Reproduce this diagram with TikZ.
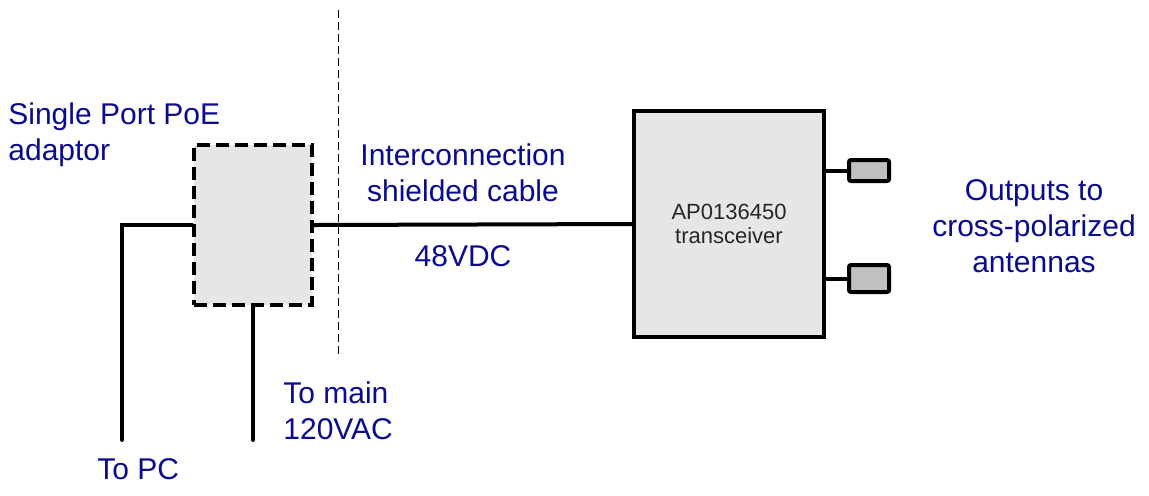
\documentclass[tikz,border=0pt]{standalone}
\usepackage{fontspec}
\setmainfont{Liberation Sans}
\usepackage{xcolor}
\definecolor{labelblue}{HTML}{0A0A8F}
\definecolor{boxgray}{HTML}{E6E6E6}
\definecolor{portgray}{HTML}{C0C0C0}
\definecolor{inktext}{HTML}{262626}

\begin{document}
\begin{tikzpicture}[x=0.5pt,y=-0.5pt,
    wire/.style={line width=2pt,line cap=round},
    label/.style={text=labelblue,font=\fontsize{15}{18}\selectfont,inner sep=0pt},
    poebox/.style={draw,line width=2pt,dash pattern=on 6.5pt off 3pt,fill=boxgray,
                   minimum width=59pt,minimum height=80pt,inner sep=0pt},
    unitbox/.style={draw,line width=2pt,fill=boxgray,
                    minimum width=95pt,minimum height=113pt,align=center,text=inktext,
                    font=\fontsize{11}{12}\selectfont},
    portbox/.style={draw,line width=2pt,rounded corners=1pt,fill=portgray,
                    minimum width=20pt,inner sep=0pt}]
  % Background
  \useasboundingbox (0,0) rectangle (1149,495);

  % Boxes
  \node[poebox] (poe) at(253, 225) {};
  \node[unitbox] (xcvr) at(729, 224) {AP0136450\\transceiver};
  \node[portbox,minimum height=10.5pt] (antA) at(869, 170.5) {};
  \node[portbox,minimum height=13.5pt] (antB) at(869, 278.5) {};

  % Wires
  \coordinate (pc) at(122, 440);
  \coordinate (mains) at(253, 440);
  \draw[wire] (poe.west) -| (pc);
  \draw[wire] (poe.south) -- (mains);
  \draw[wire] (poe.east) -- (xcvr.west);
  \draw[wire] (xcvr.east |- antA) -- (antA.west);
  \draw[wire] (xcvr.east |- antB) -- (antB.west);

  % Separator
  \coordinate (sepTop) at(338, 10);
  \coordinate (sepBot) at(338, 358);
  \draw[line width=0.5pt,dash pattern=on 4pt off 2pt] (sepTop) -- (sepBot);

  % Labels
  \node[label,anchor=west,align=left] (poeText) at(8, 135) {Single Port PoE\\adaptor};
  \node[label,align=center] (cableText) at(463, 173) {Interconnection\\shielded cable};
  \node[label] (dcText) at(463, 256) {48VDC};
  \node[label,anchor=west,align=left] (mainsText) at(283, 411) {To main\\120VAC};
  \node[label,anchor=west] (pcText) at(97, 469) {To PC};
  \node[label,align=center] (outText) at(1034, 226) {Outputs to\\cross-polarized\\antennas};
\end{tikzpicture}
\end{document}
